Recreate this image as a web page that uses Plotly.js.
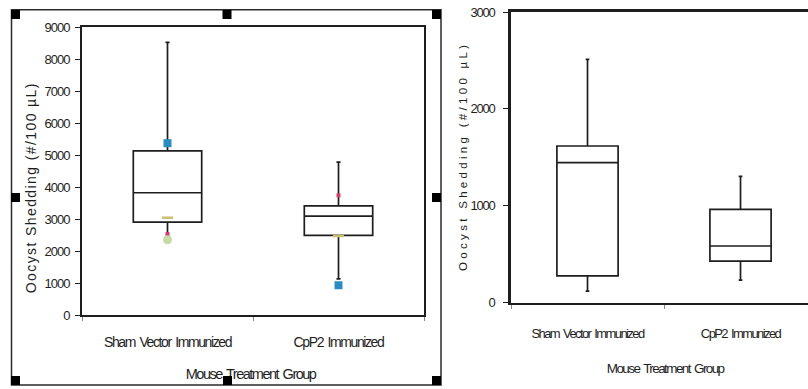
<!DOCTYPE html>
<html>
<head>
<meta charset="utf-8">
<script src="https://cdn.plot.ly/plotly-3.0.1.min.js"></script>
<style>
  html, body { margin: 0; padding: 0; background: #fff; overflow: hidden; }
  #chart { width: 808px; height: 389px; }
  .annotation[data-index="0"] text { letter-spacing: 1.4px; }
  .annotation[data-index="1"] text { letter-spacing: 3.3px; }
  .annotation[data-index="2"] text { letter-spacing: -1.5px; word-spacing: 2px; }
  .annotation[data-index="3"] text { letter-spacing: -1.6px; word-spacing: 2px; }
  g.xtick text { letter-spacing: -1.4px; word-spacing: 2px; }
  g.x2tick text { letter-spacing: -1.6px; word-spacing: 2px; }
  g.ytick text { letter-spacing: -1.0px; }
  g.y2tick text { letter-spacing: -1.2px; }
</style>
</head>
<body>
<div id="chart"></div>
<script>
// ---- data ----
const categories = ["Sham Vector Immunized", "CpP2 Immunized"];

// left panel: box statistics
const leftQ1 = [2900, 2490];
const leftMedian = [3820, 3090];
const leftQ3 = [5130, 3410];
const leftLower = [2450, 1130];
const leftUpper = [8520, 4780];

// left panel: coloured individual markers
const blueValues = [5370, 930];
const yellowValues = [3040, 2470];
const redValues = [2530, 3740];
const greenValues = [2350, null];

// right panel: box statistics
const rightQ1 = [276, 430];
const rightMedian = [1445, 585];
const rightQ3 = [1617, 964];
const rightLower = [120, 234];
const rightUpper = [2512, 1304];

const yTitle = "Oocyst Shedding (#/100 µL)";
const xTitle = "Mouse Treatment Group";
const leftTicks = [0, 1000, 2000, 3000, 4000, 5000, 6000, 7000, 8000, 9000];
const rightTicks = [0, 1000, 2000, 3000];

// ---- helpers for layout placement (pixels -> paper) ----
const W = 808, H = 389;
const px = x => x / W;
const py = y => 1 - y / H;

const regular = "Liberation Sans, Arial, sans-serif";
const ink = "#1e1e1e";

const boxStyle = {
  type: "box", boxpoints: false, width: 0.4, whiskerwidth: 0.06,
  fillcolor: "rgba(255,255,255,0)", line: { color: ink, width: 1.7 },
  hoverinfo: "skip", showlegend: false
};

const traces = [
  Object.assign({}, boxStyle, {
    x: categories, q1: leftQ1, median: leftMedian, q3: leftQ3,
    lowerfence: leftLower, upperfence: leftUpper, xaxis: "x", yaxis: "y"
  }),
  { type: "scatter", mode: "markers", x: categories, y: yellowValues, xaxis: "x", yaxis: "y",
    marker: { symbol: "line-ew", size: 8, line: { color: "#c9bf6e", width: 2.5 } }, showlegend: false, hoverinfo: "skip" },
  { type: "scatter", mode: "markers", x: categories, y: redValues, xaxis: "x", yaxis: "y",
    marker: { symbol: "square", size: 4, color: "#d43c6c" }, showlegend: false, hoverinfo: "skip" },
  { type: "scatter", mode: "markers", x: categories, y: greenValues, xaxis: "x", yaxis: "y",
    marker: { symbol: "circle", size: 9, color: "#c6dca6" }, showlegend: false, hoverinfo: "skip" },
  { type: "scatter", mode: "markers", x: categories, y: blueValues, xaxis: "x", yaxis: "y",
    marker: { symbol: "square", size: 8, color: "#2b8cc2" }, showlegend: false, hoverinfo: "skip" },
  Object.assign({}, boxStyle, {
    x: categories, q1: rightQ1, median: rightMedian, q3: rightQ3,
    lowerfence: rightLower, upperfence: rightUpper, xaxis: "x2", yaxis: "y2"
  })
];

function handle(x0, y0) {
  return { type: "rect", xref: "paper", yref: "paper",
    x0: px(x0), x1: px(x0 + 9), y0: py(y0), y1: py(y0 + 9),
    fillcolor: "#000", line: { width: 0 }, layer: "above" };
}

const layout = {
  width: W, height: H,
  margin: { l: 0, r: 0, t: 0, b: 0 },
  paper_bgcolor: "#fff", plot_bgcolor: "#fff",
  showlegend: false,
  font: { family: regular, color: ink },
  xaxis: {
    domain: [px(82), px(424)], range: [-0.5, 1.5], type: "category",
    showline: true, mirror: true, linecolor: ink, linewidth: 2,
    ticks: "outside", tickson: "boundaries", ticklen: 4, tickcolor: "#888", tickwidth: 1,
    showgrid: false, zeroline: false, fixedrange: true,
    tickfont: { family: regular, size: 14, color: ink }, ticklabelstandoff: 13
  },
  yaxis: {
    domain: [py(315), py(27)], range: [0, 9000], tickvals: leftTicks,
    showline: true, mirror: true, linecolor: ink, linewidth: 2,
    ticks: "outside", ticklen: 5, tickcolor: ink, tickwidth: 1,
    showgrid: false, zeroline: false, fixedrange: true,
    tickfont: { family: regular, size: 13, color: ink }, ticklabelstandoff: 3
  },
  xaxis2: {
    domain: [px(511), 1], range: [-0.5, 1.441], type: "category", anchor: "y2",
    showline: true, mirror: true, linecolor: ink, linewidth: 2.75,
    ticks: "outside", tickson: "boundaries", ticklen: 4, tickcolor: "#888", tickwidth: 1,
    showgrid: false, zeroline: false, fixedrange: true,
    tickfont: { family: regular, size: 13, color: ink }, ticklabelstandoff: 17
  },
  yaxis2: {
    domain: [py(302.7), py(12)], range: [0, 3000], tickvals: rightTicks, anchor: "x2",
    showline: true, mirror: false, linecolor: ink, linewidth: 2.75,
    ticks: "outside", ticklen: 5, tickcolor: ink, tickwidth: 1,
    showgrid: false, zeroline: false, fixedrange: true,
    tickfont: { family: regular, size: 13, color: ink }, ticklabelstandoff: 6
  },
  annotations: [
    { text: yTitle, xref: "paper", yref: "paper", x: px(31), y: py(188), textangle: -90,
      showarrow: false, xanchor: "center", yanchor: "middle",
      font: { family: regular, size: 14, color: ink } },
    { text: yTitle, xref: "paper", yref: "paper", x: px(463), y: py(156), textangle: -90,
      showarrow: false, xanchor: "center", yanchor: "middle",
      font: { family: regular, size: 11.5, color: ink } },
    { text: xTitle, xref: "paper", yref: "paper", x: px(250), y: py(374),
      showarrow: false, xanchor: "center", yanchor: "middle",
      font: { family: regular, size: 14.5, color: ink } },
    { text: xTitle, xref: "paper", yref: "paper", x: px(665), y: py(368),
      showarrow: false, xanchor: "center", yanchor: "middle",
      font: { family: regular, size: 13.5, color: ink } },
    { text: " ", xref: "paper", yref: "paper", x: px(222.5), y: py(385), xanchor: "left", yanchor: "bottom",
      showarrow: false, width: 9, height: 9, borderpad: 0, borderwidth: 0, bgcolor: "#000",
      font: { size: 6 } }
  ],
  shapes: [
    { type: "rect", xref: "paper", yref: "paper", x0: px(11.5), x1: px(441), y0: py(385), y1: py(9.8),
      line: { color: "#2a2a2a", width: 1.5 }, fillcolor: "rgba(0,0,0,0)", layer: "above" },
    handle(11, 10), handle(222.5, 10), handle(432, 10),
    handle(11, 193), handle(432, 193),
    handle(11, 376), handle(432, 376)
  ]
};

Plotly.newPlot("chart", traces, layout, { staticPlot: true, displayModeBar: false });
</script>
</body>
</html>
